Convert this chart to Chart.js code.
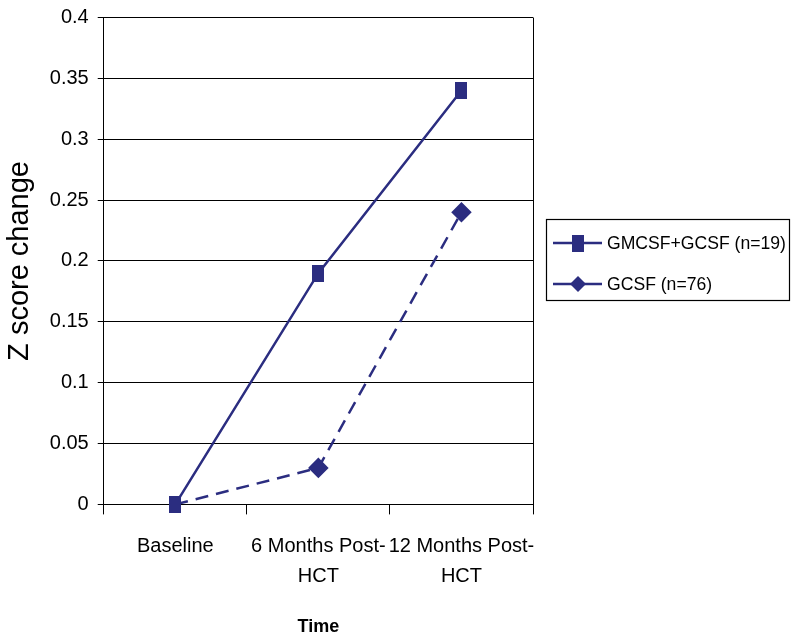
<!DOCTYPE html>
<html>
<head>
<meta charset="utf-8">
<script src="https://cdn.jsdelivr.net/npm/chart.js@4.4.0/dist/chart.umd.min.js"></script>
<style>
  html, body { margin: 0; padding: 0; background: #fff; }
  #wrap { width: 800px; height: 644px; position: relative; }
</style>
</head>
<body>
<div id="wrap"><canvas id="lineChart"></canvas></div>
<script>
// categories on the x axis (multi line labels)
const categories = [['Baseline'], ['6 Months Post-', 'HCT'], ['12 Months Post-', 'HCT']];

// series values
const gmcsfGcsf = [0, 0.19, 0.34];
const gcsf = [0, 0.03, 0.24];

// series names
const seriesNames = ['GMCSF+GCSF (n=19)', 'GCSF (n=76)'];

// y tick labels
const yTicks = [0, 0.05, 0.1, 0.15, 0.2, 0.25, 0.3, 0.35, 0.4];

const navy = '#2b2d80';
const fontFamily = 'Arial, "Liberation Sans", sans-serif';

// tall rectangle marker like the original
const squareMarker = document.createElement('canvas');
squareMarker.width = 12;
squareMarker.height = 17;
const sctx = squareMarker.getContext('2d');
sctx.fillStyle = navy;
sctx.fillRect(0, 0, 12, 17);

// draws the boxed legend and the right border of the plot
const boxLegend = {
    id: 'boxLegend',
    afterDraw (chart) {
        const ctx = chart.ctx;
        const area = chart.chartArea;
        ctx.save();

        // right border of the plot area
        ctx.strokeStyle = '#000';
        ctx.lineWidth = 1;
        ctx.beginPath();
        ctx.moveTo(Math.round(area.right) + 0.5, area.top);
        ctx.lineTo(Math.round(area.right) + 0.5, area.bottom);
        ctx.stroke();

        // legend box
        const bx = 546.5, by = 219.5, bw = 243, bh = 81;
        ctx.strokeStyle = '#000';
        ctx.lineWidth = 1.2;
        ctx.strokeRect(bx, by, bw, bh);

        const rows = [243, 284];
        chart.data.datasets.forEach(function (ds, i) {
            const y = rows[i];
            ctx.strokeStyle = navy;
            ctx.lineWidth = 2.5;
            ctx.setLineDash([]);
            ctx.beginPath();
            ctx.moveTo(553, y);
            ctx.lineTo(602, y);
            ctx.stroke();
            ctx.fillStyle = navy;
            if (i === 0) {
                ctx.fillRect(572, y - 8, 12, 17);
            } else {
                ctx.beginPath();
                ctx.moveTo(578, y - 8);
                ctx.lineTo(586, y);
                ctx.lineTo(578, y + 8);
                ctx.lineTo(570, y);
                ctx.closePath();
                ctx.fill();
            }
            ctx.fillStyle = '#000';
            ctx.font = '17.6px ' + fontFamily;
            ctx.textBaseline = 'middle';
            ctx.textAlign = 'left';
            ctx.fillText(ds.label, 607, y + 1);
        });
        ctx.restore();
    }
};

const data = {
    labels: categories,
    datasets: [
        {
            label: seriesNames[0],
            data: gmcsfGcsf,
            order: 0,
            borderColor: navy,
            backgroundColor: navy,
            borderWidth: 2.5,
            pointStyle: squareMarker,
            pointRadius: 8,
            clip: false,
            tension: 0
        },
        {
            label: seriesNames[1],
            data: gcsf,
            order: 1,
            borderColor: navy,
            backgroundColor: navy,
            borderWidth: 2.5,
            borderDash: [13, 8],
            pointStyle: 'rectRot',
            // the baseline diamond sits hidden under the square
            pointRadius: [0, 8.5, 8.5],
            clip: false,
            tension: 0
        }
    ]
};

const config = {
    type: 'line',
    data: data,
    plugins: [boxLegend],
    options: {
        responsive: true,
        maintainAspectRatio: false,
        animation: false,
        layout: {
            padding: { left: 3, right: 267, top: 0, bottom: 6 }
        },
        plugins: {
            legend: { display: false },
            tooltip: { enabled: false }
        },
        scales: {
            x: {
                offset: true,
                grid: {
                    offset: true,
                    drawOnChartArea: false,
                    drawTicks: true,
                    tickLength: 10,
                    color: '#000'
                },
                border: { color: '#000', width: 1 },
                ticks: {
                    color: '#000',
                    maxRotation: 0,
                    autoSkip: false,
                    padding: 17,
                    font: { size: 20, family: fontFamily, lineHeight: 1.5 }
                },
                title: {
                    display: true,
                    text: 'Time',
                    color: '#000',
                    padding: { top: 8, bottom: 0 },
                    font: { size: 18, weight: 'bold', family: fontFamily }
                }
            },
            y: {
                min: 0,
                max: 0.4,
                afterBuildTicks (axis) {
                    axis.ticks = yTicks.map(v => ({ value: v }));
                },
                grid: {
                    color: '#000',
                    lineWidth: 1,
                    tickLength: 6
                },
                border: { color: '#000', width: 1 },
                ticks: {
                    color: '#000',
                    padding: 9,
                    font: { size: 20, family: fontFamily, lineHeight: 0.85 },
                    callback: function (v) { return String(v); }
                },
                title: {
                    display: true,
                    text: 'Z score change',
                    color: '#000',
                    padding: { top: 0, bottom: 3 },
                    font: { size: 29, family: fontFamily }
                }
            }
        }
    }
};

const myChart = new Chart(
    document.getElementById('lineChart'),
    config
);
</script>
</body>
</html>
